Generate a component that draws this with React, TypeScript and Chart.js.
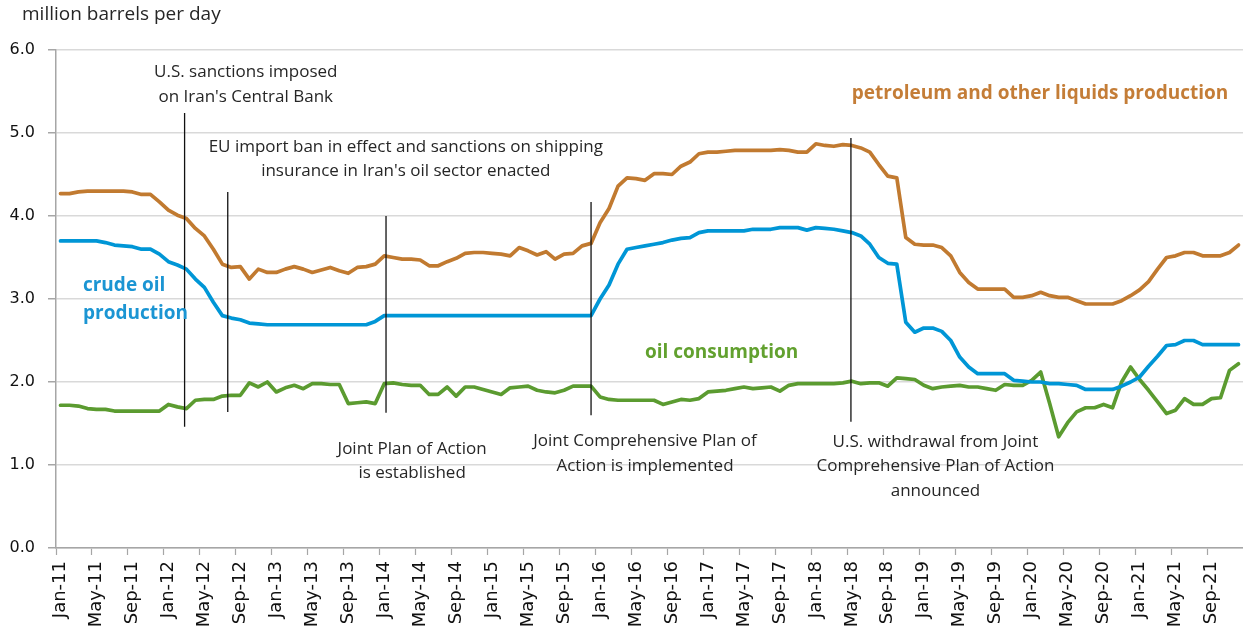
import React, { useEffect, useRef } from 'react';
import { Chart, registerables } from 'chart.js';

Chart.register(...registerables);

// ---------- data ----------
const MONTHS = ['Jan', 'Feb', 'Mar', 'Apr', 'May', 'Jun', 'Jul', 'Aug', 'Sep', 'Oct', 'Nov', 'Dec'];
const YEARS = ['11', '12', '13', '14', '15', '16', '17', '18', '19', '20', '21'];
const categories: string[] = [];
for (const yr of YEARS) for (const m of MONTHS) categories.push(`${m}-${yr}`);

const TICK_EVERY = 4;
const Y_TICKS = [0, 1, 2, 3, 4, 5, 6];

// petroleum and other liquids production (million b/d), Jan-11 .. Dec-21
const petroleum = [
  4.27, 4.27, 4.29, 4.30, 4.30, 4.30, 4.30, 4.30, 4.29, 4.26,
  4.26, 4.17, 4.07, 4.01, 3.97, 3.85, 3.76, 3.60, 3.42, 3.38,
  3.39, 3.24, 3.36, 3.32, 3.32, 3.36, 3.39, 3.36, 3.32, 3.35,
  3.38, 3.34, 3.31, 3.38, 3.39, 3.42, 3.52, 3.50, 3.48, 3.48,
  3.47, 3.40, 3.40, 3.45, 3.49, 3.55, 3.56, 3.56, 3.55, 3.54,
  3.52, 3.62, 3.58, 3.53, 3.57, 3.48, 3.54, 3.55, 3.64, 3.67,
  3.92, 4.09, 4.36, 4.46, 4.45, 4.43, 4.51, 4.51, 4.50, 4.60,
  4.65, 4.75, 4.77, 4.77, 4.78, 4.79, 4.79, 4.79, 4.79, 4.79,
  4.80, 4.79, 4.77, 4.77, 4.87, 4.85, 4.84, 4.86, 4.85, 4.82,
  4.77, 4.62, 4.48, 4.46, 3.74, 3.66, 3.65, 3.65, 3.62, 3.52,
  3.32, 3.20, 3.12, 3.12, 3.12, 3.12, 3.02, 3.02, 3.04, 3.08,
  3.04, 3.02, 3.02, 2.98, 2.94, 2.94, 2.94, 2.94, 2.98, 3.04,
  3.11, 3.21, 3.36, 3.50, 3.52, 3.56, 3.56, 3.52, 3.52, 3.52,
  3.56, 3.65,
];

// crude oil production
const crude = [
  3.70, 3.70, 3.70, 3.70, 3.70, 3.68, 3.65, 3.64, 3.63, 3.60,
  3.60, 3.54, 3.45, 3.41, 3.36, 3.24, 3.14, 2.96, 2.80, 2.77,
  2.75, 2.71, 2.70, 2.69, 2.69, 2.69, 2.69, 2.69, 2.69, 2.69,
  2.69, 2.69, 2.69, 2.69, 2.69, 2.73, 2.80, 2.80, 2.80, 2.80,
  2.80, 2.80, 2.80, 2.80, 2.80, 2.80, 2.80, 2.80, 2.80, 2.80,
  2.80, 2.80, 2.80, 2.80, 2.80, 2.80, 2.80, 2.80, 2.80, 2.80,
  3.00, 3.17, 3.42, 3.60, 3.62, 3.64, 3.66, 3.68, 3.71, 3.73,
  3.74, 3.80, 3.82, 3.82, 3.82, 3.82, 3.82, 3.84, 3.84, 3.84,
  3.86, 3.86, 3.86, 3.83, 3.86, 3.85, 3.84, 3.82, 3.80, 3.76,
  3.66, 3.50, 3.43, 3.42, 2.72, 2.60, 2.65, 2.65, 2.61, 2.50,
  2.30, 2.18, 2.10, 2.10, 2.10, 2.10, 2.02, 2.01, 2.00, 2.00,
  1.98, 1.98, 1.97, 1.96, 1.91, 1.91, 1.91, 1.91, 1.95, 2.00,
  2.06, 2.19, 2.31, 2.44, 2.45, 2.50, 2.50, 2.45, 2.45, 2.45,
  2.45, 2.45,
];

// oil consumption
const consumption = [
  1.72, 1.72, 1.71, 1.68, 1.67, 1.67, 1.65, 1.65, 1.65, 1.65,
  1.65, 1.65, 1.73, 1.70, 1.68, 1.78, 1.79, 1.79, 1.83, 1.84,
  1.84, 1.99, 1.94, 2.00, 1.88, 1.93, 1.96, 1.92, 1.98, 1.98,
  1.97, 1.97, 1.74, 1.75, 1.76, 1.74, 1.98, 1.99, 1.97, 1.96,
  1.96, 1.85, 1.85, 1.94, 1.83, 1.94, 1.94, 1.91, 1.88, 1.85,
  1.93, 1.94, 1.95, 1.90, 1.88, 1.87, 1.90, 1.95, 1.95, 1.95,
  1.82, 1.79, 1.78, 1.78, 1.78, 1.78, 1.78, 1.73, 1.76, 1.79,
  1.78, 1.80, 1.88, 1.89, 1.90, 1.92, 1.94, 1.92, 1.93, 1.94,
  1.89, 1.96, 1.98, 1.98, 1.98, 1.98, 1.98, 1.99, 2.01, 1.98,
  1.99, 1.99, 1.95, 2.05, 2.04, 2.03, 1.96, 1.92, 1.94, 1.95,
  1.96, 1.94, 1.94, 1.92, 1.90, 1.97, 1.96, 1.96, 2.02, 2.12,
  1.74, 1.34, 1.51, 1.64, 1.69, 1.69, 1.73, 1.69, 2.00, 2.18,
  2.03, 1.90, 1.76, 1.62, 1.66, 1.80, 1.73, 1.73, 1.80, 1.81,
  2.14, 2.22,
];

// event markers: month index (0 = Jan-11), vertical extent in data units
const eventMonths = [13.8, 18.6, 36.2, 59.0, 87.9];
const eventTops = [5.24, 4.29, 4.0, 4.17, 4.94];
const eventBottoms = [1.46, 1.64, 1.63, 1.60, 1.52];

// event captions: lines, anchor month (centre), anchor values (one per line)
const eventTexts = [
  { lines: ['U.S. sanctions imposed', "on Iran's Central Bank"], month: 20.6, values: [5.73, 5.43] },
  { lines: ['EU import ban in effect and sanctions on shipping', "insurance in Iran's oil sector enacted"], month: 38.4, values: [4.83, 4.54] },
  { lines: ['Joint Plan of Action', 'is established'], month: 39.1, values: [1.19, 0.90] },
  { lines: ['Joint Comprehensive Plan of', 'Action is implemented'], month: 65.0, values: [1.29, 0.99] },
  { lines: ['U.S. withdrawal from Joint', 'Comprehensive Plan of Action', 'announced'], month: 97.3, values: [1.28, 0.99, 0.69] },
];

// series captions (left-aligned at month)
const seriesTexts = [
  { lines: ['crude oil', 'production'], month: 2.5, values: [3.16, 2.83], color: '#1B95D3' },
  { lines: ['petroleum and other liquids production'], month: 88.0, values: [5.48], color: '#C47D37' },
  { lines: ['oil consumption'], month: 65.0, values: [2.36], color: '#62A12F' },
];

const UNIT_LABEL = 'million barrels per day';

// ---------- styles ----------
const ORANGE = '#C17A30';
const BLUE = '#0096D6';
const GREEN = '#5B9B30';
const AXIS_GRAY = '#A6A6A6';
const GRID_GRAY = '#D9D9D9';
const TEXT = '#262626';

const annotationPlugin = {
  id: 'eventAnnotations',
  afterDatasetsDraw(chart: any) {
    const { ctx } = chart;
    const x = chart.scales.x;
    const y = chart.scales.y;
    ctx.save();
    // vertical event lines
    ctx.strokeStyle = '#111';
    ctx.lineWidth = 1.3;
    eventMonths.forEach((m, i) => {
      const px = x.getPixelForValue(m);
      ctx.beginPath();
      ctx.moveTo(px, y.getPixelForValue(eventTops[i]));
      ctx.lineTo(px, y.getPixelForValue(eventBottoms[i]));
      ctx.stroke();
    });
    // event captions
    ctx.fillStyle = TEXT;
    ctx.font = '17px "Open Sans", "Liberation Sans", sans-serif';
    ctx.textAlign = 'center';
    ctx.textBaseline = 'middle';
    for (const t of eventTexts) {
      const px = x.getPixelForValue(t.month);
      t.lines.forEach((line, k) => ctx.fillText(line, px, y.getPixelForValue(t.values[k])));
    }
    // series captions
    ctx.font = 'bold 19px "Open Sans", "Liberation Sans", sans-serif';
    ctx.textAlign = 'left';
    for (const t of seriesTexts) {
      ctx.fillStyle = t.color;
      const px = x.getPixelForValue(t.month);
      t.lines.forEach((line, k) => ctx.fillText(line, px, y.getPixelForValue(t.values[k])));
    }
    // unit label
    ctx.fillStyle = TEXT;
    ctx.font = '19px "Open Sans", "Liberation Sans", sans-serif';
    ctx.textAlign = 'left';
    ctx.fillText(UNIT_LABEL, 22, 15);
    ctx.restore();
  },
};

export default function App() {
  const canvasRef = useRef<HTMLCanvasElement | null>(null);

  useEffect(() => {
    document.body.style.margin = '0';
    const canvas = canvasRef.current;
    if (!canvas) return;
    const lineStyle = {
      borderWidth: 3.7,
      pointRadius: 0,
      pointHoverRadius: 0,
      tension: 0,
      borderJoinStyle: 'round' as const,
      borderCapStyle: 'round' as const,
      fill: false,
    };
    const chart = new Chart(canvas, {
      type: 'line',
      data: {
        labels: categories,
        datasets: [
          { label: 'petroleum and other liquids production', data: petroleum, borderColor: ORANGE, backgroundColor: ORANGE, ...lineStyle },
          { label: 'crude oil production', data: crude, borderColor: BLUE, backgroundColor: BLUE, ...lineStyle },
          { label: 'oil consumption', data: consumption, borderColor: GREEN, backgroundColor: GREEN, ...lineStyle },
        ],
      },
      options: {
        animation: false,
        responsive: false,
        devicePixelRatio: 1,
        layout: { padding: { top: 50, right: 0, left: 0, bottom: 0 } },
        plugins: {
          legend: { display: false },
          tooltip: { enabled: false },
          title: { display: false },
        },
        scales: {
          x: {
            type: 'category',
            offset: true,
            grid: {
              offset: true,
              drawOnChartArea: false,
              drawTicks: true,
              tickLength: 7,
              tickWidth: 1.2,
              tickColor: (c: any) => (c.index % TICK_EVERY === 0 ? AXIS_GRAY : 'rgba(0,0,0,0)'),
            },
            border: { color: AXIS_GRAY, width: 1.5 },
            ticks: {
              autoSkip: false,
              maxRotation: 90,
              minRotation: 90,
              padding: 6,
              color: '#111',
              font: { family: '"DejaVu Sans", sans-serif', size: 18 },
              callback: (_v: any, i: number) => (i % TICK_EVERY === 0 ? categories[i] : ''),
            },
            afterFit: (s: any) => {
              s.height = 87;
              s.paddingLeft = 0;
              s.paddingRight = 0;
            },
          },
          y: {
            min: 0,
            max: 6,
            afterBuildTicks: (s: any) => {
              s.ticks = Y_TICKS.map((v) => ({ value: v }));
            },
            grid: {
              color: GRID_GRAY,
              lineWidth: 1.5,
              drawTicks: true,
              tickLength: 8,
              tickColor: AXIS_GRAY,
            },
            border: { color: AXIS_GRAY, width: 1.5 },
            ticks: {
              padding: 13,
              color: '#111',
              font: { family: '"DejaVu Sans", sans-serif', size: 16 },
              callback: (v: any) => Number(v).toFixed(1),
            },
            afterFit: (s: any) => {
              s.width = 56;
            },
          },
        },
      },
      plugins: [annotationPlugin],
    });
    return () => chart.destroy();
  }, []);

  return (
    <div style={{ position: 'absolute', left: 0, top: 0, width: 1243, height: 635 }}>
      <canvas ref={canvasRef} width={1243} height={635} style={{ display: 'block' }} />
    </div>
  );
}
